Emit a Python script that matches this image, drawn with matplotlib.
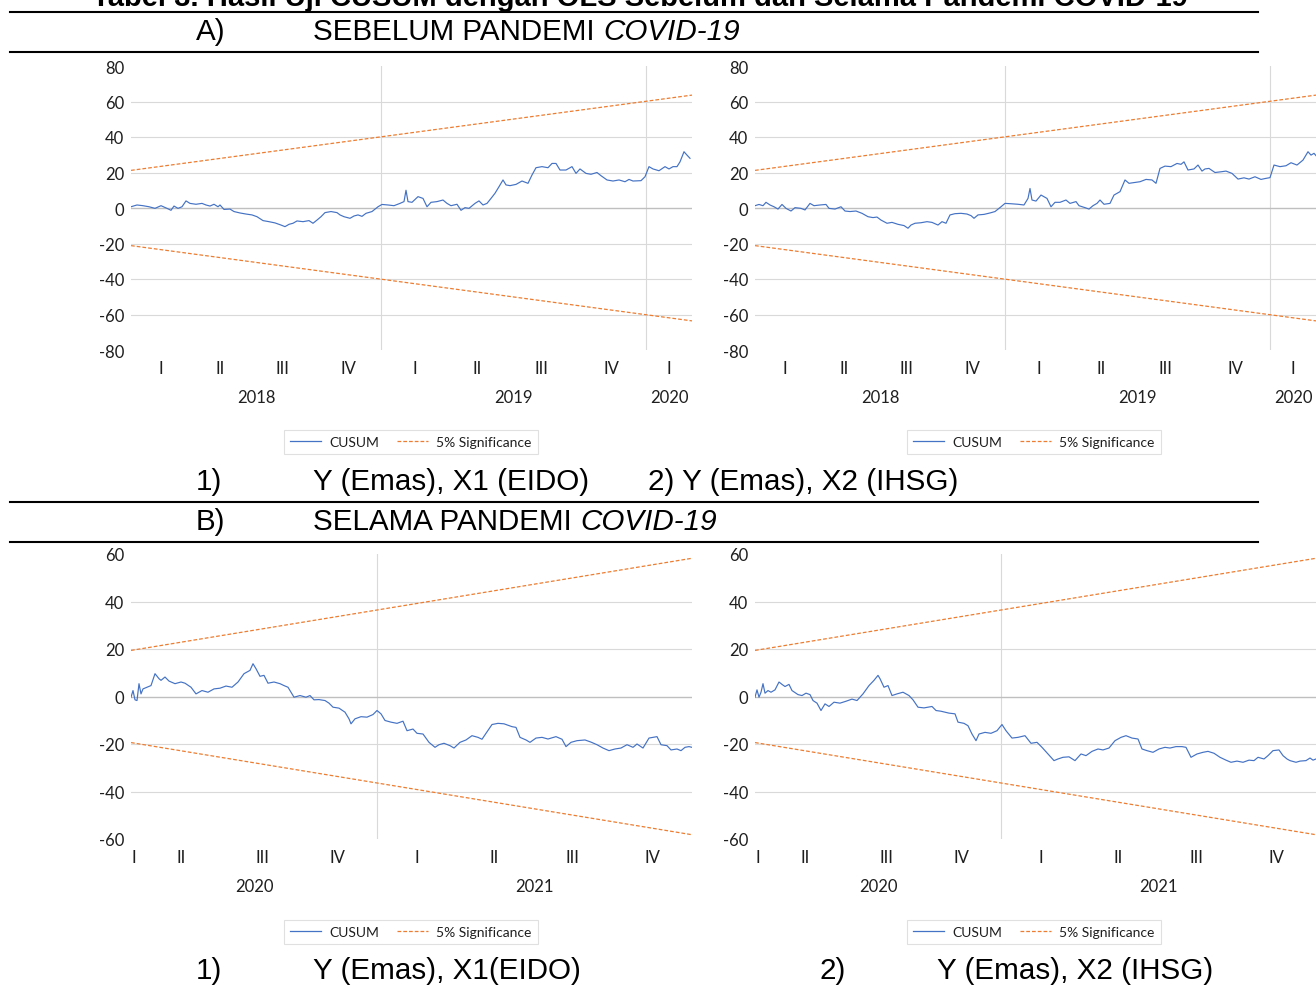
#!/usr/bin/env python3
"""
Tabel 3 - CUSUM test (OLS) before and during the COVID-19 pandemic.
Four Excel-style CUSUM charts laid out as a document page.
"""

import matplotlib
matplotlib.use("Agg")
import matplotlib.pyplot as plt
from matplotlib.lines import Line2D

# --- data (x = trading-day index, y = CUSUM) ---
pre_quarter_days = [60, 58, 66, 66, 68, 56, 72, 69, 46]
pre_quarter_labels = ["I", "II", "III", "IV", "I", "II", "III", "IV", "I"]
pre_years = ["2018", "2019", "2020"]
pre_year_quarters = [4, 4, 1]
pre_yticks = [-80, -60, -40, -20, 0, 20, 40, 60, 80]
pre_sig = (21.2, 63.6)  # 5% band at first and last observation

covid_quarter_days = [5, 90, 72, 79, 79, 76, 80, 80]
covid_quarter_labels = ["I", "II", "III", "IV", "I", "II", "III", "IV"]
covid_years = ["2020", "2021"]
covid_year_quarters = [4, 4]
covid_yticks = [-60, -40, -20, 0, 20, 40, 60]
covid_sig = (19.4, 58.2)

pre_eido_days = [0, 6, 12, 18, 24, 30, 36, 40, 43, 47,
                 51, 55, 59, 65, 71, 75, 79, 83, 87, 89,
                 93, 99, 103, 109, 115, 121, 126, 132, 138, 144,
                 150, 154, 158, 162, 166, 172, 178, 182, 186, 190,
                 194, 200, 206, 209, 213, 219, 223, 227, 231, 235,
                 241, 247, 251, 257, 263, 269, 273, 275, 277, 281,
                 287, 292, 296, 300, 306, 312, 316, 320, 326, 330,
                 334, 338, 344, 348, 352, 356, 360, 364, 368, 372,
                 375, 379, 385, 391, 397, 401, 405, 411, 417, 421,
                 425, 429, 435, 441, 445, 449, 455, 460, 466, 470,
                 476, 482, 488, 494, 498, 502, 510, 514, 518, 522,
                 528, 534, 538, 542, 546, 549, 553, 556, 559]
pre_eido_cusum = [0.7, 1.7, 1.3, 0.7, -0.2, 1.3, -0.2, -1.3, 1.1, -0.2,
                  0.7, 4.0, 2.6, 2.1, 2.6, 1.7, 1.1, 2.1, 0.7, 1.7,
                  -0.8, -0.6, -2.0, -2.8, -3.4, -3.9, -4.9, -7.1, -7.7, -8.4,
                  -9.6, -10.5, -9.2, -8.6, -7.3, -7.7, -7.1, -8.6, -6.8, -4.9,
                  -2.6, -2.0, -2.6, -3.9, -4.9, -5.8, -4.5, -3.9, -4.7, -3.0,
                  -2.0, 0.7, 2.0, 1.7, 1.3, 2.6, 3.6, 10.0, 3.6, 3.2,
                  6.4, 5.4, 0.7, 3.2, 3.6, 4.5, 2.6, 1.3, 2.1, -1.3,
                  0.2, -0.2, 2.6, 4.0, 1.7, 2.6, 5.4, 8.3, 12.0, 15.8,
                  13.0, 12.6, 13.3, 15.2, 13.9, 18.6, 22.7, 23.3, 22.7, 25.1,
                  25.1, 21.4, 21.4, 23.3, 19.5, 22.0, 19.5, 19.0, 20.0, 18.2,
                  15.8, 15.2, 15.8, 14.8, 16.1, 15.2, 15.4, 17.6, 23.3, 22.0,
                  21.0, 23.3, 22.0, 23.3, 23.3, 26.0, 31.7, 29.8, 28.0]

pre_ihsg_days = [0, 4, 8, 11, 15, 19, 23, 27, 31, 36,
                 40, 46, 50, 55, 59, 65, 71, 74, 80, 86,
                 90, 95, 101, 107, 113, 118, 122, 126, 132, 137,
                 143, 149, 153, 156, 160, 166, 172, 177, 183, 187,
                 191, 195, 200, 206, 212, 216, 219, 223, 229, 235,
                 240, 246, 250, 256, 263, 269, 273, 275, 277, 281,
                 286, 292, 296, 300, 305, 311, 315, 321, 324, 330,
                 334, 338, 342, 345, 349, 355, 359, 365, 370, 374,
                 380, 385, 391, 397, 401, 405, 410, 416, 422, 426,
                 429, 433, 439, 443, 447, 450, 454, 460, 466, 471,
                 477, 483, 489, 494, 500, 506, 511, 515, 519, 525,
                 531, 536, 542, 548, 553, 556, 559, 561]
pre_ihsg_cusum = [1.3, 2.0, 1.3, 3.2, 1.7, 0.7, -0.6, 2.0, -0.2, -1.7,
                  0.2, -0.2, -1.1, 2.6, 1.3, 1.7, 2.0, -0.2, -0.6, 0.7,
                  -1.7, -2.0, -1.7, -3.0, -4.9, -5.4, -5.1, -6.8, -8.6, -8.1,
                  -9.2, -9.9, -11.4, -9.6, -8.6, -8.3, -7.7, -8.1, -9.6, -7.7,
                  -8.6, -3.9, -3.2, -3.0, -3.4, -4.3, -5.8, -3.9, -3.6, -2.8,
                  -2.0, 0.7, 2.6, 2.4, 2.1, 1.7, 5.4, 11.0, 4.5, 3.9,
                  7.3, 5.4, 0.7, 3.2, 3.2, 4.5, 2.6, 3.6, 1.3, 0.2,
                  -0.6, 1.3, 2.6, 4.5, 2.1, 2.6, 7.3, 9.2, 15.8, 13.9,
                  14.4, 14.8, 16.1, 15.8, 13.9, 22.3, 23.6, 23.3, 25.1, 24.6,
                  26.0, 21.4, 22.0, 24.2, 20.8, 22.0, 22.3, 20.0, 20.4, 20.8,
                  19.5, 16.3, 17.0, 16.3, 17.6, 16.1, 16.7, 17.1, 24.2, 23.3,
                  23.8, 25.5, 24.2, 27.0, 31.7, 29.8, 30.8, 29.5]

covid_eido_days = [0, 2, 4, 6, 8, 10, 12, 16, 20, 24,
                   28, 30, 34, 38, 44, 50, 54, 60, 65, 71,
                   77, 83, 89, 95, 101, 107, 113, 119, 122, 125,
                   129, 133, 137, 143, 149, 153, 157, 163, 169, 175,
                   179, 183, 188, 194, 198, 202, 208, 214, 218, 220,
                   224, 230, 236, 242, 246, 250, 254, 260, 266, 272,
                   276, 282, 286, 292, 298, 304, 308, 313, 319, 323,
                   329, 335, 341, 347, 351, 355, 361, 367, 373, 381,
                   385, 389, 395, 399, 405, 411, 417, 425, 431, 435,
                   440, 446, 454, 460, 466, 472, 478, 484, 490, 496,
                   502, 506, 512, 518, 526, 530, 536, 540, 546, 550,
                   554, 558, 561]
covid_eido_cusum = [-0.3, 2.5, -1.4, -1.7, 5.4, 1.1, 3.2, 3.9, 4.6, 9.6,
                    7.5, 6.8, 8.2, 6.5, 5.4, 6.1, 5.6, 3.9, 1.1, 2.5,
                    1.8, 3.2, 3.5, 4.4, 3.9, 6.1, 9.6, 11.0, 13.8, 11.7,
                    8.5, 8.9, 5.6, 6.1, 5.4, 4.6, 3.9, -0.3, 0.4, -0.3,
                    0.4, -1.4, -1.3, -1.7, -2.8, -4.5, -4.9, -6.6, -9.4, -11.5,
                    -9.4, -8.5, -8.7, -7.6, -5.9, -7.3, -10.1, -10.8, -11.3, -10.4,
                    -14.4, -13.7, -15.5, -15.8, -19.3, -21.4, -20.3, -19.7, -20.7, -21.7,
                    -19.3, -18.3, -16.5, -17.2, -18.0, -15.5, -11.8, -11.3, -11.5, -12.7,
                    -13.0, -17.2, -18.3, -19.3, -17.5, -17.2, -17.9, -16.9, -18.0, -21.1,
                    -19.3, -18.6, -18.3, -19.2, -20.3, -21.7, -22.8, -22.1, -21.7, -20.3,
                    -21.4, -20.0, -21.7, -17.5, -16.9, -20.3, -20.7, -22.5, -22.1, -22.8,
                    -21.4, -21.1, -21.4]

covid_ihsg_days = [0, 2, 4, 6, 8, 10, 13, 16, 20, 24,
                   27, 30, 34, 37, 43, 47, 51, 55, 58, 62,
                   66, 70, 74, 79, 85, 91, 97, 102, 108, 114,
                   119, 123, 125, 129, 133, 137, 142, 148, 154, 158,
                   163, 169, 177, 181, 186, 194, 200, 203, 209, 213,
                   217, 221, 224, 230, 236, 242, 247, 251, 257, 263,
                   270, 276, 282, 287, 293, 299, 303, 308, 314, 320,
                   326, 331, 337, 343, 348, 354, 360, 366, 371, 377,
                   383, 387, 392, 398, 404, 410, 415, 421, 427, 431,
                   436, 442, 448, 453, 459, 465, 471, 476, 482, 488,
                   494, 499, 503, 509, 513, 518, 524, 528, 532, 535,
                   541, 545, 551, 555, 558, 561]
covid_ihsg_cusum = [-0.3, 2.8, -0.3, 1.8, 5.4, 1.4, 2.5, 1.8, 2.8, 6.1,
                    5.1, 4.2, 5.1, 2.5, 0.8, 0.4, 1.4, 0.8, -1.7, -2.8,
                    -5.9, -3.1, -4.2, -2.4, -2.8, -2.0, -1.1, -1.7, 1.1, 4.6,
                    6.8, 8.9, 7.5, 3.9, 4.6, 0.4, 1.1, 1.8, 0.4, -1.4,
                    -4.5, -4.8, -4.2, -5.9, -6.2, -7.0, -7.3, -10.8, -11.3, -12.3,
                    -15.8, -18.6, -15.8, -15.1, -15.5, -14.4, -11.8, -14.4, -17.5, -17.2,
                    -16.5, -19.7, -19.3, -21.4, -24.2, -27.0, -26.3, -25.6, -25.4, -27.0,
                    -24.2, -24.9, -23.1, -22.1, -22.5, -21.7, -18.6, -17.2, -16.5, -17.5,
                    -17.9, -22.1, -22.8, -23.5, -22.1, -21.4, -21.7, -21.1, -21.1, -21.4,
                    -25.6, -24.2, -23.5, -23.1, -23.9, -25.6, -26.8, -27.7, -27.2, -27.7,
                    -26.8, -27.0, -25.6, -26.3, -24.9, -22.8, -22.5, -24.9, -26.3, -27.0,
                    -27.7, -27.2, -27.0, -25.9, -26.8, -26.3]

W, H = 1316, 987
BLUE = "#4472C4"
ORANGE = "#ED7D31"
GRID = "#d9d9d9"
INK = "#1f1f1f"
CHART_FONT = "Lato"
DOC_FONT = "Liberation Sans"


def fx(px):
    return px / W


def fy(py):
    return 1 - py / H


def draw_cusum(fig, box, days, cusum, sig, yticks, q_days, q_labels, years, year_q):
    """Excel-style CUSUM chart inside a pixel box (left, top, right, bottom)"""
    left, top, right, bottom = box
    ax = fig.add_axes([fx(left), fy(bottom), (right - left) / W, (bottom - top) / H])
    total = sum(q_days)

    # gridlines (no line on the outer ticks), zero axis line
    for v in yticks[1:-1]:
        if v != 0:
            ax.axhline(v, color=GRID, lw=0.8, zorder=0)
    ax.axhline(0, color="#bfbfbf", lw=1.0, zorder=1)

    # year separators
    bounds = [0]
    for d in q_days:
        bounds.append(bounds[-1] + d)
    year_edges = [0]
    k = 0
    for n in year_q:
        k += n
        year_edges.append(bounds[k])
    for e in year_edges[1:-1]:
        ax.axvline(e, color=GRID, lw=0.8, zorder=0)

    ax.plot(days, cusum, color=BLUE, lw=0.85, zorder=3)
    ax.plot([0, total], [sig[0], sig[1]], color=ORANGE, lw=0.9, ls=(0, (3, 1.6)), zorder=2)
    ax.plot([0, total], [-sig[0], -sig[1]], color=ORANGE, lw=0.9, ls=(0, (3, 1.6)), zorder=2)

    ax.set_xlim(0, total)
    ax.set_ylim(yticks[0], yticks[-1])
    ax.set_xticks([])
    ax.set_yticks(yticks)
    ax.set_yticklabels([str(v) for v in yticks], fontsize=12, family=CHART_FONT, color=INK)
    ax.tick_params(axis="y", length=0, pad=5)
    for s in ax.spines.values():
        s.set_visible(False)
    ax.patch.set_alpha(0)

    # quarter labels and year labels below the plot
    for i, lab in enumerate(q_labels):
        mid = (bounds[i] + bounds[i + 1]) / 2
        ax.annotate(lab, xy=(mid, 0), xycoords=("data", "axes fraction"),
                    xytext=(0, -18), textcoords="offset pixels",
                    ha="center", va="center", fontsize=12, family=CHART_FONT, color=INK)
    for i, yr in enumerate(years):
        mid = (year_edges[i] + year_edges[i + 1]) / 2
        ax.annotate(yr, xy=(mid, 0), xycoords=("data", "axes fraction"),
                    xytext=(0, -47), textcoords="offset pixels",
                    ha="center", va="center", fontsize=12, family=CHART_FONT, color=INK)
    return ax


def add_legend(fig, cx, cy):
    handles = [Line2D([], [], color=BLUE, lw=0.9),
               Line2D([], [], color=ORANGE, lw=0.9, ls=(0, (3, 1.6)))]
    leg = fig.legend(handles, ["CUSUM", "5% Significance"], loc="center",
                     bbox_to_anchor=(fx(cx), fy(cy)), ncol=2, frameon=True,
                     fancybox=False, edgecolor=GRID, handlelength=2.2,
                     columnspacing=1.3, handletextpad=0.6, borderpad=0.45,
                     prop={"family": CHART_FONT, "size": 10})
    leg.get_frame().set_linewidth(0.8)
    for t in leg.get_texts():
        t.set_color(INK)


def rule(fig, py):
    fig.add_artist(Line2D([fx(10), fx(1258)], [fy(py), fy(py)], color="black", lw=1.5))


def doc_text(fig, px, py, s, style="normal"):
    return fig.text(fx(px), fy(py), s, ha="left", va="center", fontsize=21.3,
                    family=DOC_FONT, style=style)


def heading(fig, py, letter, plain):
    """Section heading with the italic COVID-19 right after the plain part"""
    doc_text(fig, 196, py, letter)
    t = doc_text(fig, 313, py, plain + " ")
    r = fig.canvas.get_renderer()
    ext = t.get_window_extent(r)
    doc_text(fig, ext.x1, py, "COVID-19", style="italic")


def main():
    fig = plt.figure(figsize=(W / 100, H / 100), dpi=100)

    # cut-off table title at the very top
    fig.text(fx(640), fy(6), "Tabel 3. Hasil Uji CUSUM dengan OLS Sebelum dan Selama Pandemi COVID-19",
             ha="center", va="baseline", fontsize=21, weight="bold", family=DOC_FONT)

    rule(fig, 13)
    heading(fig, 32, "A)", "SEBELUM PANDEMI")
    rule(fig, 53)

    draw_cusum(fig, (131, 67, 692, 351), pre_eido_days, pre_eido_cusum, pre_sig, pre_yticks,
               pre_quarter_days, pre_quarter_labels, pre_years, pre_year_quarters)
    draw_cusum(fig, (755, 67, 1316, 351), pre_ihsg_days, pre_ihsg_cusum, pre_sig, pre_yticks,
               pre_quarter_days, pre_quarter_labels, pre_years, pre_year_quarters)
    add_legend(fig, 411, 443)
    add_legend(fig, 1034, 443)

    doc_text(fig, 196, 482, "1)")
    doc_text(fig, 313, 482, "Y (Emas), X1 (EIDO)")
    doc_text(fig, 648, 482, "2) Y (Emas), X2 (IHSG)")

    rule(fig, 503)
    heading(fig, 522, "B)", "SELAMA PANDEMI")
    rule(fig, 543)

    draw_cusum(fig, (131, 555, 692, 840), covid_eido_days, covid_eido_cusum, covid_sig, covid_yticks,
               covid_quarter_days, covid_quarter_labels, covid_years, covid_year_quarters)
    draw_cusum(fig, (755, 555, 1316, 840), covid_ihsg_days, covid_ihsg_cusum, covid_sig, covid_yticks,
               covid_quarter_days, covid_quarter_labels, covid_years, covid_year_quarters)
    add_legend(fig, 411, 933)
    add_legend(fig, 1034, 933)

    doc_text(fig, 196, 971, "1)")
    doc_text(fig, 313, 971, "Y (Emas), X1(EIDO)")
    doc_text(fig, 820, 971, "2)")
    doc_text(fig, 937, 971, "Y (Emas), X2 (IHSG)")

    fig.savefig("out.png", dpi=100)
    plt.close(fig)


if __name__ == "__main__":
    main()
